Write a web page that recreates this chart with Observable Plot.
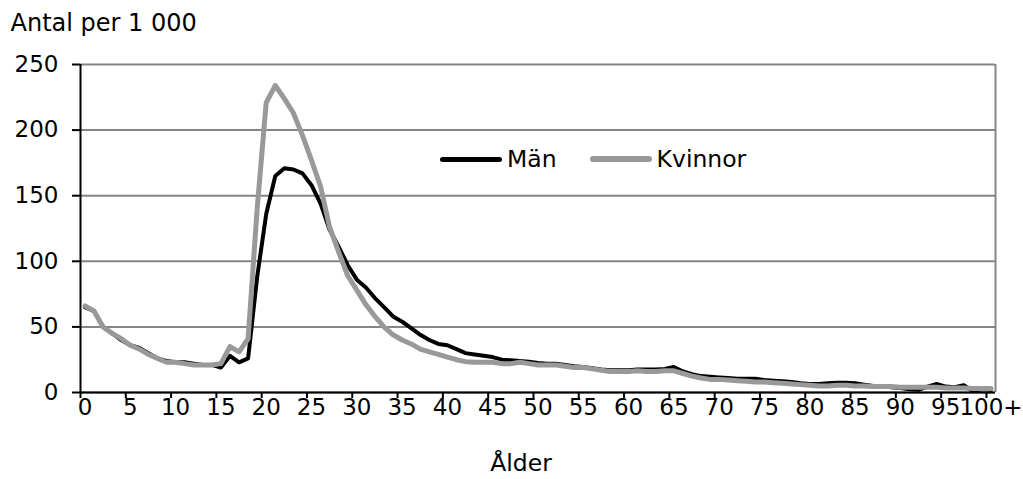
<!DOCTYPE html>
<html>
<head>
<meta charset="utf-8">
<script src="https://cdn.jsdelivr.net/npm/d3@7"></script>
<script src="https://cdn.jsdelivr.net/npm/@observablehq/plot@0.6"></script>
<style>
  body { margin: 0; background: #fff; }
  #wrap { position: relative; width: 1023px; height: 479px; }
  .legend { position: absolute; left: 440px; top: 145px; display: flex; align-items: center;
            font: 23.5px "DejaVu Sans", sans-serif; color: #000; }
  .sw { display: inline-block; width: 62px; border-radius: 3px; margin-right: 5px; }
  .item { display: flex; align-items: center; }
</style>
</head>
<body>
<div id="wrap"></div>
<script>
// Categories: age (index), with tick labels every 5 years
const ages = [0,1,2,3,4,5,6,7,8,9,10,11,12,13,14,15,16,17,18,19,20,21,22,23,24,25,26,27,28,29,30,
  31,32,33,34,35,36,37,38,39,40,41,42,43,44,45,46,47,48,49,50,51,52,53,54,55,56,57,58,59,60,
  61,62,63,64,65,66,67,68,69,70,71,72,73,74,75,76,77,78,79,80,81,82,83,84,85,86,87,88,89,90,
  91,92,93,94,95,96,97,98,99,100];
const ageTickValues = [0,5,10,15,20,25,30,35,40,45,50,55,60,65,70,75,80,85,90,95,100];
const ageTickLabels = ["0","5","10","15","20","25","30","35","40","45","50","55","60","65","70","75","80","85","90","95","100+"];
const yTicks = [0,50,100,150,200,250];
const seriesNames = ["Män", "Kvinnor"];

// Antal per 1 000
const man = [
  65,62,50,45,40,36,34,30,26,24,
  23,23,22,21,21,19,28,23,26,88,
  136,165,171,170,167,158,144,124,111,97,
  86,80,72,65,58,54,49,44,40,37,
  36,33,30,29,28,27,25,24.5,24,23.5,
  22.5,22,22,21,20,19.5,18.5,17.5,17,17,
  17,17.5,17.5,17.5,18,19.5,16,14,12.5,12,
  11.5,11,10.5,10.5,10.5,9.5,9,8.5,8,7,
  6.5,6.5,7,7.5,7.5,7,6,5,4.5,4,
  3.5,2.5,2,4.5,6.5,4.5,4,5.5,1,2.5,2];
const kvinnor = [
  66,62,50,45,41,36,33,29,26,23,
  23,22,21,21,21,22,35,31,41,140,
  221,234,224,213,196,177,157,126,107,89,
  78,67,58,50,44,40,37,33,31,29,
  27,25,23.5,23,23,23,22,22,23,22,
  21,21,21,20,19,19,18,17,16,16,
  16,16.5,16,16,16.5,16.5,14.5,12.5,11,10,
  10,9.5,9,8.5,8,8,7.5,7,6.5,6,
  5.5,5,5,5.5,5.5,5,5,4.5,4.5,4.5,
  4,4,4,4,4,3.5,3.5,3.5,3,3,3];

const colors = ["#000000", "#999999"];
const widths = [4, 5];
const xDomain = [ages[0] - 0.5, ages[ages.length - 1] + 0.5];
const tickBoundaries = ageTickValues.map(d => d - 0.5);

const rowsMan = ages.map((a, i) => ({age: a, v: man[i]}));
const rowsKv = ages.map((a, i) => ({age: a, v: kvinnor[i]}));

const chart = Plot.plot({
  width: 1023,
  height: 479,
  marginTop: 64,
  marginBottom: 87,
  marginLeft: 80,
  marginRight: 28,
  style: {fontFamily: "DejaVu Sans, sans-serif", fontSize: "23px", color: "#000", background: "#fff"},
  x: {type: "linear", domain: xDomain},
  y: {domain: [yTicks[0], yTicks[yTicks.length - 1]]},
  marks: [
    Plot.gridY(yTicks, {stroke: "#858585", strokeOpacity: 1, strokeWidth: 2}),
    Plot.ruleX([xDomain[1]], {stroke: "#858585", strokeWidth: 2}),
    Plot.line(rowsMan, {x: "age", y: "v", stroke: colors[0], strokeWidth: widths[0], strokeLinejoin: "round", strokeLinecap: "round"}),
    Plot.line(rowsKv, {x: "age", y: "v", stroke: colors[1], strokeWidth: widths[1], strokeLinejoin: "round", strokeLinecap: "round"}),
    Plot.ruleY([yTicks[0]], {stroke: "#000", strokeWidth: 2}),
    Plot.ruleX([xDomain[0]], {stroke: "#000", strokeWidth: 2}),
    Plot.axisY({ticks: yTicks, tickSize: 8, tickPadding: 14, strokeWidth: 2, label: null, fontSize: 23}),
    Plot.axisX({ticks: ageTickValues, tickSize: 0, tickPadding: 6, label: null, fontSize: 23,
      tickFormat: d => ageTickLabels[ageTickValues.indexOf(d)]}),
    Plot.axisX({ticks: tickBoundaries, tickSize: 6, strokeWidth: 2, label: null, tickFormat: () => ""}),
    Plot.text(["Antal per 1 000"], {frameAnchor: "top-left", dx: -70, dy: -41, textAnchor: "start", lineAnchor: "middle", fontSize: 24}),
    Plot.text(["Ålder"], {frameAnchor: "bottom", dx: -17, dy: 71, lineAnchor: "middle", fontSize: 23.5})
  ]
});

const wrap = document.getElementById("wrap");
wrap.appendChild(chart);

const legend = document.createElement("div");
legend.className = "legend";
seriesNames.forEach((name, i) => {
  const item = document.createElement("div");
  item.className = "item";
  if (i > 0) item.style.marginLeft = "33px";
  const sw = document.createElement("span");
  sw.className = "sw";
  sw.style.background = colors[i];
  sw.style.height = (widths[i] + 1) + "px";
  const t = document.createElement("span");
  t.textContent = name;
  item.appendChild(sw);
  item.appendChild(t);
  legend.appendChild(item);
});
wrap.appendChild(legend);
</script>
</body>
</html>
